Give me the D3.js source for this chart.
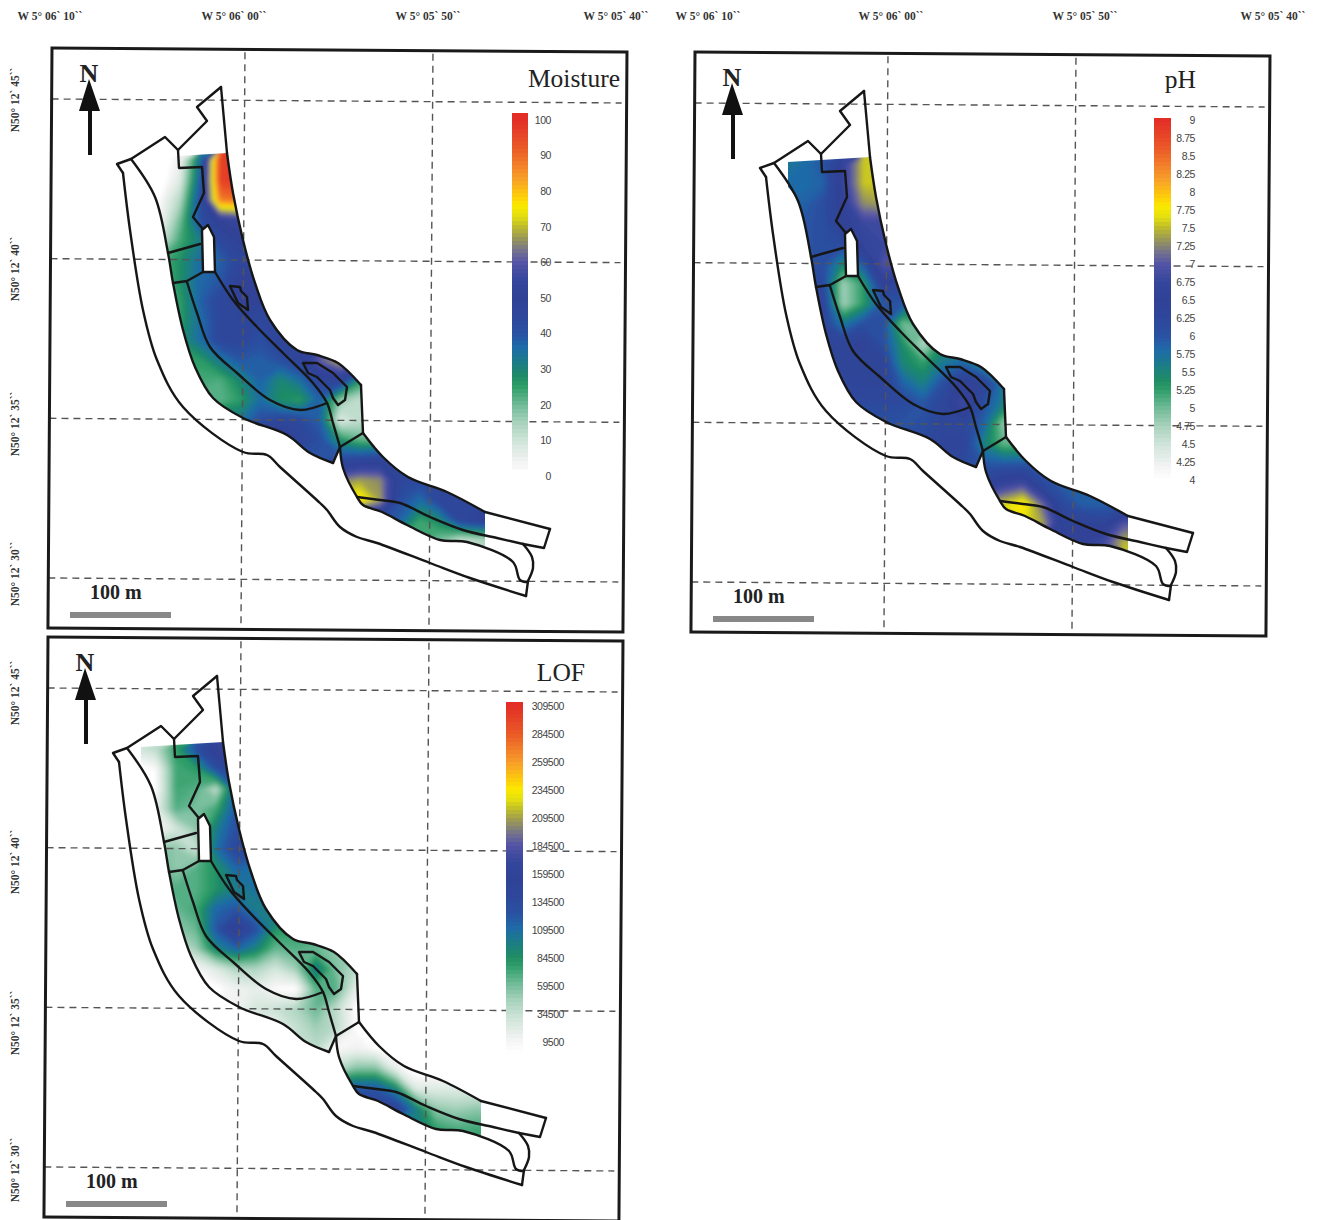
<!DOCTYPE html>
<html>
<head>
<meta charset="utf-8">
<script src="https://cdn.jsdelivr.net/npm/d3@7"></script>
<style>
  body { margin: 0; background: #fff; }
  svg { display: block; }
  text { font-family: "Liberation Serif", serif; }
</style>
</head>
<body>
<svg id="vis-svg" width="1318" height="1220"></svg>
<script>
// tick labels
var lonLabels = ["W 5° 06` 10``", "W 5° 06` 00``", "W 5° 05` 50``", "W 5° 05` 40``"];
var latLabels = ["N50° 12` 45``", "N50° 12` 40``", "N50° 12` 35``", "N50° 12` 30``"];

// legend ticks
var moistureTicks = [100, 90, 80, 70, 60, 50, 40, 30, 20, 10, 0];
var phTicks = [9, 8.75, 8.5, 8.25, 8, 7.75, 7.5, 7.25, 7, 6.75, 6.5, 6.25, 6, 5.75, 5.5, 5.25, 5, 4.75, 4.5, 4.25, 4];
var lofTicks = [309500, 284500, 259500, 234500, 209500, 184500, 159500, 134500, 109500, 84500, 59500, 34500, 9500];

// surveyed values, one row every 20 m going south. first number = first column of the row (20 m columns)
var moistureRows = [
  [0, 0, 0, 5, 35, 97, 100],
  [0, 0, 0, 8, 38, 97, 100],
  [0, 0, 3, 14, 42, 88, 90],
  [0, 0, 4, 20, 42, 52, 55, 55],
  [1, 10, 24, 32, 45, 50, 50],
  [1, 22, 28, 36, 38, 46, 46],
  [1, 22, 28, 37, 40, 50, 50],
  [1, 22, 26, 38, 45, 50, 50, 48],
  [1, 24, 26, 36, 45, 47, 45, 45],
  [2, 28, 36, 45, 46, 42, 48, 50],
  [2, 25, 26, 34, 40, 38, 42, 48, 62, 70],
  [3, 24, 23, 30, 38, 30, 36, 47, 50, 28],
  [3, 22, 22, 26, 36, 28, 26, 38, 18, 12, 12],
  [5, 34, 42, 46, 44, 38, 8, 12, 15],
  [7, 55, 48, 42, 28, 22, 22],
  [9, 40, 44, 46, 48, 48],
  [10, 64, 68, 66, 46, 44],
  [10, 78, 78, 68, 42, 36, 46],
  [12, 42, 38, 25, 30, 46, 50, 50],
  [14, 24, 20, 12, 14, 14]
];
var phRows = [
  [0, 5.7, 5.8, 6, 6.7, 7.55, 7.6],
  [0, 5.8, 5.8, 5.9, 6.7, 7.55, 7.6],
  [0, 5.9, 5.9, 6.1, 6.6, 7.3, 7.4],
  [0, 6, 6, 6.1, 6.5, 6.8, 6.8, 6.7],
  [1, 6, 6.1, 6.2, 6.7, 6.8, 6.8],
  [1, 6, 6.1, 5.5, 6, 7, 7],
  [1, 6.3, 6.2, 4.8, 5.3, 6.5, 6.3],
  [1, 6.4, 6.4, 4.8, 5.3, 6, 6, 5.8],
  [1, 6.3, 6.3, 5.7, 6.1, 6.1, 5, 5.2],
  [2, 6.4, 6.4, 6.5, 6.1, 5.4, 4.7, 5.4],
  [2, 6.4, 6.4, 6.4, 6.4, 5.5, 5.3, 5.7, 5.9, 5.5],
  [3, 6.3, 6.4, 6.4, 5.9, 5.6, 6.1, 6.6, 6.4, 5.7],
  [3, 6.1, 6.2, 6.2, 6.2, 6, 6.3, 6.9, 6.1, 5.6, 5.6],
  [5, 6.1, 6, 6.1, 6.3, 6.3, 5.9, 4.9, 4.9],
  [7, 6.2, 6.4, 6.4, 5.6, 5.1, 5.1],
  [9, 6.2, 6, 6, 6, 6],
  [10, 6.4, 6.7, 6.9, 6.2, 5.9],
  [10, 7.3, 7.6, 7.9, 7.1, 6.2, 5.9],
  [12, 7.7, 7.4, 6.4, 6.5, 6.4, 7, 7.1],
  [14, 6.5, 6.6, 6.9, 7.5, 7.6]
];
// in thousands
var lofRows = [
  [0, 30, 40, 80, 130, 165, 160],
  [0, 0, 10, 75, 80, 130, 150],
  [0, 0, 8, 75, 70, 40, 120],
  [0, 0, 20, 70, 60, 75, 125, 125],
  [1, 8, 30, 55, 100, 130, 130],
  [1, 60, 55, 35, 110, 140, 140],
  [1, 70, 55, 70, 85, 115, 110],
  [1, 70, 70, 70, 85, 100, 110, 100],
  [1, 60, 65, 75, 115, 125, 100, 110],
  [2, 55, 65, 125, 165, 130, 85, 80],
  [2, 30, 50, 95, 115, 95, 65, 70, 65, 55],
  [3, 10, 25, 45, 45, 30, 50, 105, 60, 40],
  [3, 5, 5, 15, 20, 8, 5, 70, 70, 20, 10],
  [5, 15, 30, 35, 45, 65, 40, 5, 5],
  [7, 15, 35, 50, 40, 8, 8],
  [9, 40, 10, 15, 8, 2],
  [10, 40, 60, 60, 20, 0],
  [10, 120, 125, 125, 95, 25, 25],
  [12, 150, 150, 100, 55, 50, 55, 55],
  [14, 100, 80, 72, 75, 75]
];

// site outlines, metres from the sheet corner
var eastBankN = [[227,153],[233,193],[243,240],[255,283],[270,320],[297,350],[317,355],[338,363],[361,385]];
var eastBankS = [[363,433],[383,457],[408,477],[447,492],[485,512]];
var eastBankEnd = [[485,512],[550,529]];
var hookTip = [[523,544],[532,557],[533,568],[528,581]];
var outerSouth = [[526,596],[470,578],[430,563],[377,543],[357,537],[340,527],[327,510],[320,503],[280,467],[267,455],[243,452],[183,407],[157,360],[143,310],[130,230],[123,173]];
var straightBits = [
  [[221,87],[227,153]],
  [[361,385],[363,433]],
  [[550,529],[544,548],[523,544]],
  [[528,581],[526,596]],
  [[123,173],[117,164],[131,159],[165,137],[178,150],[207,121],[197,107],[221,87]],
  [[178,150],[179,168],[202,167],[204,193],[193,217],[202,228]],
  [[168,253],[200,244]],
  [[173,283],[187,281],[203,272]],
  [[340,447],[363,433]],
  [[333,463],[340,447]]
];
var westBank = [[333,463],[310,453],[287,435],[243,418],[213,398],[195,367],[183,330],[173,283],[168,253],[155,197],[131,159]];
var midLines = [
  [[187,282],[197,313],[210,347],[237,373],[270,400],[300,410],[327,403]],
  [[215,272],[233,300],[257,327],[283,353],[313,383],[327,403],[333,423],[340,447]],
  [[357,497],[380,500],[400,503],[430,517],[463,530],[497,538],[523,544]]
];
var southBank = [[528,582],[520,580],[513,562],[467,542],[440,540],[407,525],[382,512],[363,505],[357,497],[343,468],[340,447]];
var islandRing = [[202,230],[208,225],[214,237],[215,272],[203,272]];
var pondRings = [
  [[230,286],[240,287],[241,291],[247,297],[248,310],[238,303]],
  [[303,363],[317,363],[333,373],[347,387],[345,400],[338,405],[333,398],[330,390],[317,377],[308,373]]
];
// cut edges of the coloured survey area
var surveyTop = [[145,183],[145,158],[227,153]];
var surveyEnd = [[485,512],[485,547]];
var surveySouth = [[485,547],[467,542],[440,540],[407,525],[382,512],[363,505],[357,497],[343,468],[340,447]];
var surveyWest = [[333,463],[310,453],[287,435],[243,418],[213,398],[195,367],[183,330],[173,283],[168,253],[155,197],[145,183]];

// colour ramp, same for all three maps (0 = bottom of legend, 100 = top)
var rampStops = [0, 4, 10, 15, 20, 25, 28, 32, 36, 40, 45, 50, 55, 60, 63, 66, 70, 73, 76, 79, 83, 87, 92, 100];
var rampColors = ["#ffffff", "#f2f3f2", "#cfe4d9", "#a8d2bc", "#6fba97", "#2f9e69", "#1f8b66", "#1b7c88", "#1e6ba8", "#2a52a2", "#2e479b", "#304296", "#35469c", "#5454a6", "#727090", "#918f62", "#bdbb2c", "#e3df10", "#fbe900", "#fdc90c", "#f8a428", "#f3822a", "#ea5a27", "#e22e27"];
var ramp = d3.scaleLinear().domain(rampStops).range(rampColors).clamp(true);

// field grid layout
var cellSize = 20, gridLeft = 130, gridTop = 150, nCols = 19;

var panels = [
  { title: "Moisture", rows: moistureRows, rowUnit: 1, ticks: moistureTicks, norm: function(v){ return v; },
    dx: 0, dy: 0, titleX: 620, titleY: 87,
    bar: { x: 512, w: 16, top: 113, bottom: 468 }, tickScale: d3.scaleLinear().domain([0, 100]).range([476, 120]), labelX: 551 },
  { title: "pH", rows: phRows, rowUnit: 1, ticks: phTicks, norm: function(v){ return (v - 4) * 20; },
    dx: 643, dy: 4, titleX: 1196, titleY: 88,
    bar: { x: 1154, w: 17, top: 118, bottom: 476 }, tickScale: d3.scaleLinear().domain([4, 9]).range([480, 120]), labelX: 1195 },
  { title: "LOF", rows: lofRows, rowUnit: 1000, ticks: lofTicks, norm: function(v){ return v / 3095; },
    dx: -4, dy: 589, titleX: 585, titleY: 681,
    bar: { x: 506, w: 17, top: 702, bottom: 1059 }, tickScale: d3.scaleLinear().domain([9500, 309500]).range([1042, 706]), labelX: 564 }
];

var svg = d3.select("#vis-svg");
var defs = svg.append("defs");
defs.append("filter").attr("id", "soft")
  .attr("x", "-5%").attr("y", "-5%").attr("width", "110%").attr("height", "110%")
  .append("feGaussianBlur").attr("stdDeviation", 2.2);

// graticule scales on the first sheet, other sheets are shifted
var lonScale = d3.scaleLinear().domain([360, 350]).range([245, 433]);
var latScale = d3.scaleLinear().domain([45, 30]).range([99, 578]);
var lonLines = [360, 350];
var latLines = [45, 40, 35, 30];

panels.forEach(function(p, idx){
  var mapX = d3.scaleLinear().domain([0, 1]).range([p.dx, p.dx + 1]);
  var mapY = d3.scaleLinear().domain([0, 1]).range([p.dy, p.dy + 1]);
  var straight = d3.line().x(function(d){ return mapX(d[0]); }).y(function(d){ return mapY(d[1]); });
  var curved = d3.line().x(function(d){ return mapX(d[0]); }).y(function(d){ return mapY(d[1]); }).curve(d3.curveCatmullRom.alpha(0.5));
  var join = function(a){ return a.map(function(s, i){ return i ? s.replace(/^M/, "L") : s; }).join(""); };

  var space = svg.append("g").attr("class", "panel-" + idx);

  // colour field
  var clipD = join([
    straight(surveyTop), curved(eastBankN), straight(straightBits[1]), curved(eastBankS),
    straight(surveyEnd), curved(surveySouth), straight(straightBits[9].slice().reverse()), curved(surveyWest)
  ]) + "Z";
  defs.append("clipPath").attr("id", "survey" + idx).append("path").attr("d", clipD);

  var grid = [];
  p.rows.forEach(function(r){
    var first = r[0], vals = r.slice(1);
    for (var c = 0; c < nCols; c++) {
      var k = Math.max(0, Math.min(vals.length - 1, c - first));
      grid.push(p.norm(vals[k] * p.rowUnit));
    }
  });
  var levels = d3.range(3, 101);
  var contours = d3.contours().size([nCols, p.rows.length]).thresholds(levels)(grid);
  var gridPath = d3.geoPath(d3.geoTransform({
    point: function(x, y){
      this.stream.point(mapX(gridLeft + x * cellSize), mapY(gridTop + y * cellSize));
    }
  }));
  space.append("g").attr("clip-path", "url(#survey" + idx + ")")
    .append("g").attr("filter", "url(#soft)")
    .selectAll("path").data(contours).enter().append("path")
    .attr("d", gridPath)
    .attr("fill", function(d){ return ramp(d.value); });

  // graticule, sheet is slightly rotated on the page
  var fx = 52 + p.dx, fy = 48 + p.dy;
  var sheet = space.append("g").attr("transform", "rotate(0.4," + fx + "," + fy + ")");
  sheet.selectAll(".lon").data(lonLines).enter().append("line")
    .attr("x1", function(d){ return mapX(lonScale(d)); })
    .attr("x2", function(d){ return mapX(lonScale(d)); })
    .attr("y1", fy + 3).attr("y2", fy + 580);
  sheet.selectAll(".lat").data(latLines).enter().append("line")
    .attr("x1", fx).attr("x2", fx + 570)
    .attr("y1", function(d){ return mapY(latScale(d)); })
    .attr("y2", function(d){ return mapY(latScale(d)); });
  sheet.selectAll("line")
    .attr("stroke", "#555").attr("stroke-width", 1.4).attr("stroke-dasharray", "7,5");
  sheet.append("rect").attr("x", fx).attr("y", fy).attr("width", 575).attr("height", 580)
    .attr("fill", "none").attr("stroke", "#1a1a1a").attr("stroke-width", 3);

  // outlines
  var drawLine = function(d, fill){
    space.append("path").attr("d", d)
      .attr("fill", fill || "none").attr("stroke", "#161616").attr("stroke-width", 2.4)
      .attr("stroke-linejoin", "round").attr("stroke-linecap", "round");
  };
  [eastBankN, eastBankS, eastBankEnd, hookTip, outerSouth, westBank, southBank].concat(midLines).forEach(function(l){
    drawLine(curved(l));
  });
  straightBits.forEach(function(l){ drawLine(straight(l)); });
  drawLine(straight(islandRing) + "Z", "#fff");
  pondRings.forEach(function(r){ drawLine(straight(r) + "Z"); });

  // legend bar in small steps like the original
  var barScale = p.tickScale;
  var steps = d3.range(p.bar.top, p.bar.bottom, 4);
  space.selectAll(".step").data(steps).enter().append("rect")
    .attr("x", p.bar.x).attr("y", function(d){ return d; })
    .attr("width", p.bar.w).attr("height", 4.4)
    .attr("fill", function(d){ return ramp(p.norm(barScale.invert(d + 2))); });

  var legendAxis = d3.axisRight(barScale).tickValues(p.ticks).tickSize(0).tickFormat(function(d){ return d; });
  var legendG = space.append("g").attr("transform", "translate(" + p.labelX + ",0)").call(legendAxis);
  legendG.select(".domain").remove();
  legendG.selectAll("text")
    .attr("x", 0).attr("text-anchor", "end")
    .style("font-family", "'Liberation Sans', sans-serif")
    .style("font-size", "10.5px")
    .style("letter-spacing", "-0.45px")
    .attr("fill", "#444");

  // title
  space.append("text").attr("x", p.titleX).attr("y", p.titleY)
    .attr("text-anchor", "end").attr("font-size", 25.5).attr("fill", "#222").text(p.title);

  // north arrow
  var nx = 89 + p.dx, ny = 48 + p.dy;
  space.append("text").attr("x", nx).attr("y", ny + 34)
    .attr("text-anchor", "middle").attr("font-size", 26).attr("font-weight", "bold").attr("fill", "#222").text("N");
  space.append("line").attr("x1", nx + 1).attr("x2", nx + 1).attr("y1", ny + 55).attr("y2", ny + 107)
    .attr("stroke", "#111").attr("stroke-width", 4);
  space.append("path")
    .attr("d", d3.line()([[nx, ny + 31], [nx + 11, ny + 63], [nx - 10, ny + 63]]) + "Z")
    .attr("fill", "#111");

  // scale bar
  space.append("text").attr("x", 90 + p.dx).attr("y", 599 + p.dy)
    .attr("font-size", 20).attr("font-weight", "bold").attr("fill", "#222").text("100 m");
  space.append("rect").attr("x", 70 + p.dx).attr("y", 612 + p.dy).attr("width", 101).attr("height", 6).attr("fill", "#888");
});

// outside labels
var topCentres = [[50, 234, 428, 616], [708, 891, 1085, 1273]];
topCentres.forEach(function(cs){
  svg.selectAll(null).data(cs).enter().append("text")
    .attr("x", function(d){ return d; }).attr("y", 20)
    .attr("text-anchor", "middle").attr("font-size", 11.5).attr("font-weight", "bold").attr("fill", "#333")
    .text(function(d, i){ return lonLabels[i]; });
});
var sideCentres = [[100, 269, 424, 574], [693, 862, 1023, 1170]];
sideCentres.forEach(function(cs){
  svg.selectAll(null).data(cs).enter().append("text")
    .attr("transform", function(d){ return "translate(19," + d + ") rotate(-90)"; })
    .attr("text-anchor", "middle").attr("font-size", 11.5).attr("font-weight", "bold").attr("fill", "#333")
    .text(function(d, i){ return latLabels[i]; });
});
</script>
</body>
</html>
